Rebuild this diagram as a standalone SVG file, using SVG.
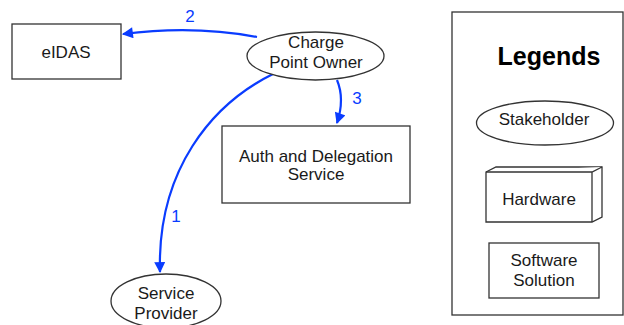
<svg xmlns="http://www.w3.org/2000/svg" width="624" height="325" viewBox="0 0 624 325">
  <style>
    .shape { fill: #ffffff; stroke: #333333; stroke-width: 1.3; }
    .label { font-family: "Liberation Sans", Arial, sans-serif; font-size: 17px; fill: #1a1a1a; text-anchor: middle; }
    .title { font-family: "Liberation Sans", Arial, sans-serif; font-size: 25px; font-weight: bold; fill: #000000; text-anchor: middle; }
    .edge { fill: none; stroke: #0a3cff; stroke-width: 2.2; }
    .num { font-family: "Liberation Sans", Arial, sans-serif; font-size: 17px; fill: #0a3cff; text-anchor: middle; }
  </style>
  <defs>
    <marker id="arrow" viewBox="0 0 10 10" refX="9" refY="5" markerWidth="5.5" markerHeight="5" markerUnits="strokeWidth" orient="auto">
      <path d="M0,0 L10,5 L0,10 Z" fill="#0a3cff"/>
    </marker>
  </defs>
  <rect width="624" height="325" fill="#ffffff"/>

  <!-- legend frame -->
  <g id="legend">
    <rect class="shape" x="452" y="12" width="171" height="303"/>
    <text class="title" x="549" y="65">Legends</text>
    <g id="legend-stakeholder">
      <ellipse class="shape" cx="545" cy="123" rx="68.5" ry="22"/>
      <text class="label" x="544" y="125">Stakeholder</text>
    </g>
    <g id="legend-hardware">
      <path class="shape" d="M486,172 L496,167 L602,167 L602,217 L592,222 L486,222 Z"/>
      <path class="shape" d="M486,172 L592,172 L602,167 M592,172 L592,222" fill="none"/>
      <text class="label" x="539" y="205">Hardware</text>
    </g>
    <g id="legend-software">
      <rect class="shape" x="489" y="243" width="110" height="55"/>
      <text class="label" x="544" y="266">Software</text>
      <text class="label" x="544" y="286">Solution</text>
    </g>
  </g>

  <!-- connectors -->
  <g id="connectors">
    <path class="edge" d="M257,37 C215,29 170,28 123,34" marker-end="url(#arrow)"/>
    <text class="num" x="190" y="22">2</text>
    <path class="edge" d="M337,80 C342,92 342,108 337,123" marker-end="url(#arrow)"/>
    <text class="num" x="357" y="104">3</text>
    <path class="edge" d="M273,74 C212,104 157,170 160,272" marker-end="url(#arrow)"/>
    <text class="num" x="176" y="222">1</text>
  </g>

  <g id="eidas">
    <rect class="shape" x="12" y="24" width="109" height="55"/>
    <text class="label" x="66" y="58">eIDAS</text>
  </g>

  <g id="charge-point-owner">
    <ellipse class="shape" cx="315.5" cy="56" rx="68.5" ry="24"/>
    <text class="label" x="316" y="48">Charge</text>
    <text class="label" x="316" y="68">Point Owner</text>
  </g>

  <g id="auth-delegation">
    <rect class="shape" x="222" y="126" width="188" height="77"/>
    <text class="label" x="316" y="162">Auth and Delegation</text>
    <text class="label" x="316" y="180">Service</text>
  </g>

  <g id="service-provider">
    <ellipse class="shape" cx="166" cy="301" rx="55" ry="27"/>
    <text class="label" x="166" y="299">Service</text>
    <text class="label" x="166" y="319">Provider</text>
  </g>
</svg>
